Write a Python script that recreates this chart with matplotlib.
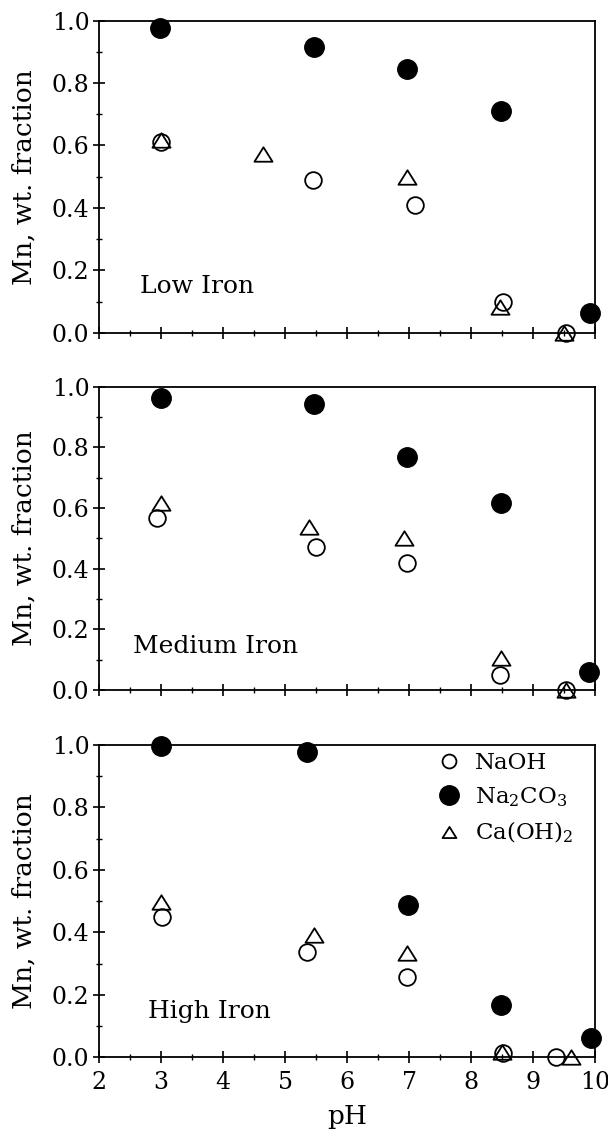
import matplotlib
matplotlib.use("Agg")
import matplotlib.pyplot as plt
from matplotlib.lines import Line2D
from matplotlib.path import Path
from matplotlib.ticker import MultipleLocator

plt.rcParams["font.family"] = ["DejaVu Serif"]
plt.rcParams["mathtext.fontset"] = "dejavuserif"

# Valeurs (pH, fraction massique de Mn)
ph_naoh_low = [3.0, 5.45, 7.1, 8.52, 9.53]
naoh_low = [0.61, 0.49, 0.41, 0.10, 0.0]
ph_na2co3_low = [2.98, 5.46, 6.96, 8.48, 9.92]
na2co3_low = [0.976, 0.917, 0.845, 0.711, 0.062]
ph_caoh_low = [3.0, 4.64, 6.96, 8.47, 9.5]
caoh_low = [0.618, 0.573, 0.50, 0.083, 0.0]

ph_naoh_med = [2.93, 5.49, 6.97, 8.47, 9.54]
naoh_med = [0.567, 0.47, 0.418, 0.05, 0.0]
ph_na2co3_med = [3.0, 5.46, 6.97, 8.48, 9.91]
na2co3_med = [0.963, 0.943, 0.768, 0.618, 0.06]
ph_caoh_med = [3.0, 5.38, 6.91, 8.48, 9.54]
caoh_med = [0.616, 0.539, 0.50, 0.105, 0.0]

ph_naoh_high = [3.01, 5.35, 6.96, 8.51, 9.37]
naoh_high = [0.45, 0.338, 0.258, 0.013, 0.0]
ph_na2co3_high = [3.0, 5.36, 6.99, 8.49, 9.93]
na2co3_high = [0.997, 0.979, 0.488, 0.167, 0.061]
ph_caoh_high = [3.0, 5.47, 6.96, 8.5, 9.61]
caoh_high = [0.498, 0.392, 0.333, 0.018, 0.0]

panel_names = ["Low Iron", "Medium Iron", "High Iron"]
legend_labels = ["NaOH", r"Na$_2$CO$_3$", r"Ca(OH)$_2$"]

panels = [
    (ph_naoh_low, naoh_low, ph_na2co3_low, na2co3_low, ph_caoh_low, caoh_low),
    (ph_naoh_med, naoh_med, ph_na2co3_med, na2co3_med, ph_caoh_med, caoh_med),
    (ph_naoh_high, naoh_high, ph_na2co3_high, na2co3_high, ph_caoh_high, caoh_high),
]

# triangle un peu aplati comme sur l'original (chemin fermé)
tri = Path([(-1, -0.8), (1, -0.8), (0, 0.8), (-1, -0.8)],
           [Path.MOVETO, Path.LINETO, Path.LINETO, Path.CLOSEPOLY])

fig = plt.figure(figsize=(6.08, 11.29), dpi=100)
boxes = [
    [0.1633, 0.7053, 0.8153, 0.2764],
    [0.1633, 0.3888, 0.8153, 0.2687],
    [0.1633, 0.0635, 0.8153, 0.2766],
]
name_pos = [(2.66, 0.147), (2.55, 0.143), (2.79, 0.146)]

for i, box in enumerate(boxes):
    ax = fig.add_axes(box)
    px1, y1, px2, y2, px3, y3 = panels[i]
    ax.plot(px1, y1, linestyle="none", marker="o", ms=12, mfc="none",
            mec="black", mew=1.3, clip_on=False, zorder=3)
    ax.plot(px2, y2, linestyle="none", marker="o", ms=14, mfc="black",
            mec="black", clip_on=False, zorder=3)
    ax.plot(px3, y3, linestyle="none", marker=tri, ms=13, mfc="none",
            mec="black", mew=1.3, clip_on=False, zorder=3)

    ax.set_xlim(2, 10)
    ax.set_ylim(0, 1)
    ax.xaxis.set_major_locator(MultipleLocator(1))
    ax.xaxis.set_minor_locator(MultipleLocator(0.5))
    ax.yaxis.set_major_locator(MultipleLocator(0.2))
    ax.yaxis.set_minor_locator(MultipleLocator(0.1))
    ax.yaxis.set_major_formatter(plt.FormatStrFormatter("%.1f"))
    ax.tick_params(which="major", direction="inout", length=9, width=1.2,
                   labelsize=17, pad=2.5)
    ax.tick_params(which="minor", direction="inout", length=5, width=1.0)
    ax.tick_params(axis="x", pad=5)
    if i < 2:
        ax.tick_params(axis="x", labelbottom=False)
    for sp in ax.spines.values():
        sp.set_linewidth(1.3)

    ax.set_ylabel("Mn, wt. fraction", fontsize=19, va="center")
    ax.yaxis.set_label_coords(-0.152, 0.5)
    ax.text(name_pos[i][0], name_pos[i][1], panel_names[i], fontsize=18,
            va="center", ha="left")

    if i == 2:
        ax.set_xlabel("pH", fontsize=19, va="center")
        ax.xaxis.set_label_coords(0.5, -0.191)
        handles = [
            Line2D([], [], linestyle="none", marker="o", ms=10, mfc="none",
                   mec="black", mew=1.3),
            Line2D([], [], linestyle="none", marker="o", ms=14, mfc="black",
                   mec="black"),
            Line2D([], [], linestyle="none", marker=tri, ms=10, mfc="none",
                   mec="black", mew=1.3),
        ]
        ax.legend(handles, legend_labels, loc="upper left",
                  bbox_to_anchor=(0.682, 0.979), frameon=False, fontsize=16.5,
                  handlelength=1.0, handletextpad=0.63, labelspacing=0.5,
                  borderaxespad=0.0, borderpad=0.0)

plt.savefig("out.png", dpi=100)
plt.close()
